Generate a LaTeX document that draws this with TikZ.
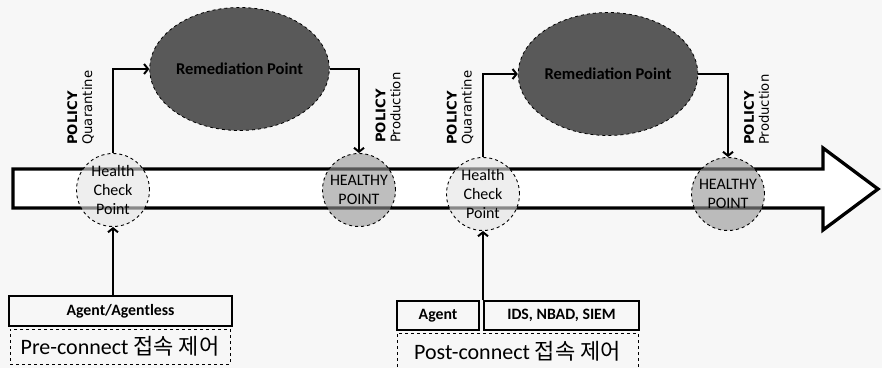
\documentclass[tikz,border=0pt]{standalone}
\usepackage{fontspec}
\setmainfont{Carlito}
\newfontfamily\dvfont{DejaVu Sans}
\newfontfamily\krfont{Noto Sans CJK KR}
\usetikzlibrary{arrows.meta,shapes.geometric}
\definecolor{bgc}{HTML}{F7F7F7}
\definecolor{chkfill}{HTML}{E3E3E3}
\definecolor{okfill}{HTML}{949494}
\definecolor{remfill}{HTML}{595959}
\tikzset{
  chk/.style={circle, draw, dashed, line width=0.9pt, fill=chkfill, fill opacity=0.6,
    text opacity=1, minimum size=73pt, inner sep=0pt, align=center,
    font=\fontsize{16}{19}\selectfont},
  ok/.style={chk, fill=okfill},
  remed/.style={ellipse, draw, dashed, line width=0.8pt, fill=remfill, minimum width=175pt,
    minimum height=123pt, inner sep=0pt, font=\bfseries\fontsize{16.5}{19}\selectfont},
  pol/.style={rotate=90, anchor=west, inner sep=0pt, align=left,
    font=\dvfont\fontsize{13.2}{15}\selectfont},
  flow/.style={line width=2pt, -{Straight Barb[length=4pt,width=10pt]}},
  srcbox/.style={draw, line width=1.2pt, inner sep=0pt,
    font=\bfseries\fontsize{15.8}{18}\selectfont},
  zone/.style={draw, dashed, line width=0.9pt, inner sep=0pt,
    font=\fontsize{22}{24}\selectfont}
}
\begin{document}
\begin{tikzpicture}[x=1pt,y=-1pt]
  \useasboundingbox (0,0) rectangle (882,368);
  \clip (0,0) rectangle (882,368);
  \fill[bgc] (0,0) rectangle (882,368);

  % main flow arrow
  \draw[line width=3.3pt, fill=white, line join=miter]
    (13,169) -- (823,169) -- (823,148) -- (878,189) -- (823,230) -- (823,208) -- (13,208) -- cycle;

  % check points on the flow
  \node[chk] (hc1) at (113,190) {Health\\Check\\Point};
  \node[ok]  (hp1) at (359,190) {HEALTHY\\POINT};
  \node[chk] (hc2) at (483,194) {Health\\Check\\Point};
  \node[ok]  (hp2) at (728,194) {HEALTHY\\POINT};

  % remediation
  \node[remed] (rem1) at (239.5,69) {Remediation Point};
  \node[remed] (rem2) at (608,74) {Remediation Point};

  % policy transitions
  \draw[flow] (hc1.north) |- (rem1.west);
  \draw[flow] (rem1.east) -| (hp1.north);
  \draw[flow] (hc2.north) |- (rem2.west);
  \draw[flow] (rem2.east) -| (hp2.north);

  \node[pol] (q1) at (80.5,145) {\textbf{POLICY}\\Quarantine};
  \node[pol] (p1) at (388,143) {\textbf{POLICY}\\Production};
  \node[pol] (q2) at (460,145) {\textbf{POLICY}\\Quarantine};
  \node[pol] (p2) at (756.5,145) {\textbf{POLICY}\\Production};

  % access control sources
  \node[srcbox, minimum width=223pt, minimum height=30pt] (ag1) at (120.5,311) {Agent/Agentless};
  \node[zone, minimum width=220pt, minimum height=35pt] (pre) at (120,346.5) {Pre-connect {\krfont 접속 제어}};
  \node[srcbox, minimum width=82pt, minimum height=29pt] (ag2) at (438,315.5) {Agent};
  \node[srcbox, minimum width=155pt, minimum height=29pt] (ids) at (561.5,315.5) {IDS, NBAD, SIEM};
  \node[zone, minimum width=241pt, minimum height=39pt] (post) at (517.5,352.5) {};
  \node[font=\fontsize{22}{24}\selectfont, inner sep=0pt] (postlbl) at (517.5,351) {Post-connect {\krfont 접속 제어}};

  \draw[flow] (hc1.south |- ag1.north) -- (hc1.south);
  \draw[flow] (hc2.south |- ag2.north) -- (hc2.south);
\end{tikzpicture}
\end{document}
